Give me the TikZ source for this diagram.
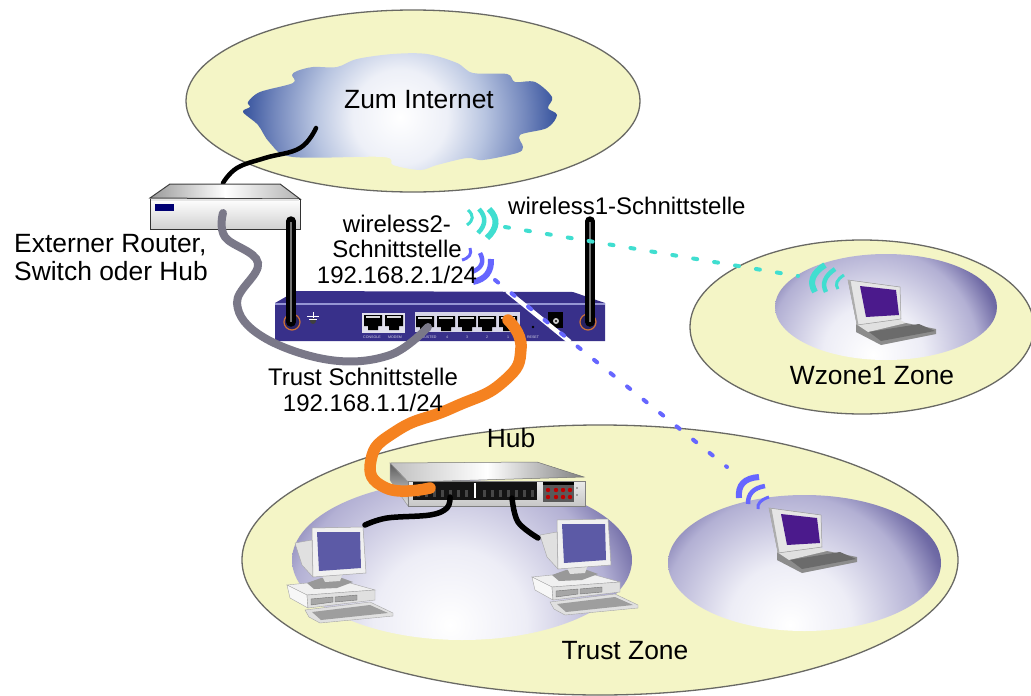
\documentclass[tikz,border=0pt]{standalone}
\usepackage{fontspec}
\usetikzlibrary{calc}
\setmainfont{Liberation Sans}
\pgfdeclareradialshading{zoneshade}{\pgfpointorigin}{rgb(0bp)=(1,1,1);rgb(9bp)=(.93,.93,.965);rgb(19bp)=(.70,.69,.83);rgb(23.5bp)=(.44,.42,.65);rgb(25bp)=(.40,.38,.62);rgb(50bp)=(.40,.38,.62)}
\pgfdeclareradialshading{cloudshade}{\pgfpointorigin}{rgb(0bp)=(1,1,1);rgb(7bp)=(.93,.94,.97);rgb(12.5bp)=(.72,.77,.88);rgb(18.5bp)=(.45,.53,.74);rgb(23bp)=(.22,.33,.62);rgb(25bp)=(.20,.30,.60);rgb(50bp)=(.20,.30,.60)}
\definecolor{zoneyellow}{RGB}{244,245,198}
\definecolor{zoneline}{RGB}{105,105,100}
\definecolor{routerblue}{RGB}{56,48,138}
\definecolor{routerlight}{RGB}{150,150,212}
\definecolor{cablegray}{RGB}{122,120,136}
\definecolor{cableorange}{RGB}{245,130,32}
\definecolor{wavecyan}{RGB}{64,222,208}
\definecolor{waveblue}{RGB}{102,102,255}
\definecolor{screenpurple}{RGB}{75,26,140}
\definecolor{screenblue}{RGB}{92,90,166}
\newcommand{\zonefill}[6]{%
  \begin{scope}
    \clip (#1,#2) ellipse [x radius=#3pt, y radius=#4pt];
    \pgfmathsetmacro{\zoneR}{1.25*#3}
    \shade[shading=zoneshade] (#5-\zoneR,#6-\zoneR) rectangle (#5+\zoneR,#6+\zoneR);
  \end{scope}}
% one wave arc: colour, width, start, apex control, end (a true quadratic)
\newcommand{\wavearc}[5]{%
  \draw[#1,line width=#2pt] (#3) .. controls ($(#3)!.667!(#4)$) and ($(#5)!.667!(#4)$) .. (#5);}
\tikzset{
  outerzone/.style={fill=zoneyellow,draw=zoneline,line width=1.3pt},
  lab/.style={font=\fontsize{24}{25.5}\selectfont,align=center,inner sep=0pt,text=black},
  biglab/.style={font=\fontsize{26.4}{28}\selectfont,align=center,inner sep=0pt,text=black},
  tinylab/.style={font=\fontsize{3.6}{4}\selectfont,inner sep=0pt,text=white!80!routerblue},
  blackcable/.style={draw=black,line width=5.5pt,line cap=round},
  graycable/.style={draw=cablegray,line width=8pt,line cap=round},
  orangecable/.style={draw=cableorange,line width=11.5pt,line cap=round},
  cyandash/.style={draw=wavecyan,line width=4pt,line cap=round,dash pattern=on 4pt off 17.2pt},
  bluedash/.style={draw=waveblue,line width=4pt,line cap=round,dash pattern=on 4pt off 17.2pt},
  antennabar/.style={draw=black,line width=9.5pt,line cap=round},
  antennaring/.style={draw=cableorange!80!routerblue,line width=1.2pt,fill=routerblue!70!black},
  rjport/.pic={
    \fill[black] (-9,0) -- (9,0) -- (9,11) -- (5,11) -- (5,15) -- (-5,15) -- (-5,11) -- (-9,11) -- cycle;
    \fill[white!85!black] (-7,1) rectangle (7,3);
  },
  laptoppic/.pic={
    % base
    \fill[black!45] (8,44) -- (58,43) -- (88,49) -- (88,54) -- (33,65) -- (8,52) -- cycle;
    \fill[black!12] (8,44) -- (50,39) -- (58,43) -- (20,52) -- cycle;
    \fill[black!58] (21,52) -- (71,44) -- (87,51) -- (33,61) -- cycle;
    % lid
    \fill[black!10,draw=black!40,line width=.5pt] (0,0) -- (52,7) -- (53,39) -- (9,45) -- cycle;
    \fill[black!32] (0,0) -- (2.5,0.5) -- (10.5,45) -- (9,45) -- cycle;
    \fill[screenpurple] (12,6) -- (48,10) -- (51,35) -- (18,37) -- cycle;
  },
  pcpic/.pic={
    % monitor side
    \fill[black!12,draw=black!35,line width=.4pt] (-17,15) -- (0,12) -- (1,49) -- (-10,37) -- cycle;
    % case
    \fill[black!6,draw=black!35,line width=.4pt] (-25,57) -- (-5,55) -- (38,55) -- (63,62) -- (-5,67) -- cycle;
    \fill[black!3,draw=black!35,line width=.4pt] (-25,57) -- (-5,67) -- (-4,80) -- (-22,70) -- cycle;
    \fill[black!12,draw=black!35,line width=.4pt] (-5,67) -- (63,62) -- (63,72) -- (-4,80) -- cycle;
    \fill[black!35,draw=black!55,line width=.4pt] (-1,71) -- (21,69) -- (21,74) -- (-1,77) -- cycle;
    \fill[black!35,draw=black!55,line width=.4pt] (23,69) -- (45,67) -- (45,72) -- (23,74) -- cycle;
    % stand
    \fill[black!40] (-5,55) -- (9,50) -- (30,50) -- (41,54) -- (25,60) -- (2,61) -- cycle;
    \fill[black!12] (10,48) -- (30,47) -- (28,53) -- (13,54) -- cycle;
    % keyboard
    \fill[black!12,draw=black!35,line width=.4pt] (-7,82) -- (58,74) -- (81,85) -- (81,88) -- (8,95) -- (-3,89) -- cycle;
    \fill[black!38] (0,84) -- (58,77) -- (76,85) -- (9,92) -- cycle;
    % monitor front
    \fill[black!6,draw=black!35,line width=.5pt] (0,0) -- (51,-1) -- (54,45) -- (1,49) -- cycle;
    \fill[screenblue] (5,4) -- (48,4) -- (49,40) -- (7,43) -- cycle;
  }
}
\begin{document}
\begin{tikzpicture}[x=1pt,y=-1pt]
\useasboundingbox (0,0) rectangle (1031,696);
\fill[white] (0,0) rectangle (1031,696);

% ---- zones
\draw[outerzone] (413,101) ellipse [x radius=227pt, y radius=91pt];
\draw[outerzone] (862,327) ellipse [x radius=172pt, y radius=87pt];
\draw[outerzone] (600,560) ellipse [x radius=358pt, y radius=135pt];
\zonefill{886}{307}{111}{53}{873}{355}
\zonefill{462}{560}{170}{80}{450}{625}
\zonefill{804.5}{563}{136.5}{68}{790}{625}

% ---- cloud
\begin{scope}
  \clip plot [smooth cycle,tension=.55] coordinates {(243,112) (250,107) (248,102) (260,92) (293,83) (292,75) (297,71) (313,67) (337,67) (357,59) (393,54) (427,54) (457,63) (473,73) (507,74) (515,82) (535,82) (552,97) (548,108) (557,115) (547,128) (520,135) (523,147) (517,153) (483,160) (467,158) (437,165) (420,170) (393,165) (383,157) (293,157) (270,143) (258,125)};
  \shade[shading=cloudshade] (230,-53) rectangle (570,287);
\end{scope}
\node[biglab] (internet) at (419,100) {Zum Internet};

% ---- external router
\coordinate (cloudport) at (316,128);
\coordinate (routertop) at (223,183);
\draw[blackcable,line width=4.5pt] plot [smooth,tension=.7] coordinates {(cloudport) (300,148) (265,158) (237,168) (routertop)};
\shade[left color=black!40,right color=black!30,middle color=white,draw=black!75,line width=1pt] (150,198) -- (170,184) -- (280,184) -- (300,199) -- cycle;
\shade[top color=white,bottom color=black!18,draw=black!80,line width=1pt] (150,199) rectangle (300,229);
\fill[black!10] (151,199) rectangle (299,201);
\fill[blue!45!black] (155,204) rectangle (174,211);
\node[lab,font=\fontsize{26.4}{28}\selectfont,align=left,anchor=west] (extlab) at (14,258) {Externer Router,\\Switch oder Hub};

% ---- main firewall
\fill[routerblue] (275,303) -- (296,291) -- (573,292) -- (605,303) -- (605,341) -- (275,341) -- cycle;
\fill[routerlight] (275,302.5) rectangle (605,304.5);
\fill[white!85!routerblue] (362,313) rectangle (405,333);
\path (373,315) pic {rjport} (394,315) pic {rjport};
\fill[white!80!routerblue] (415,312) rectangle (520,332);
\path (425,316) pic {rjport} (446,316) pic {rjport} (467,316) pic {rjport} (487,316) pic {rjport} (508,316) pic {rjport};
\node[tinylab] (consolelab) at (372,337) {CONSOLE};
\node[tinylab] (modemlab) at (395,337) {MODEM};
\node[tinylab] (trustedlab) at (428,337) {TRUSTED};
\node[tinylab] (p4) at (447,337) {4};
\node[tinylab] (p3) at (467,337) {3};
\node[tinylab] (p2) at (487,337) {2};
\node[tinylab] (p1) at (508,337) {1};
\node[tinylab] (resetlab) at (533,337) {RESET};
\fill[black!75] (313,321) circle (3pt);
\draw[white,line width=.8pt] (313,312) -- (313,318) (307,316) -- (319,316) (309,319) -- (317,319);
\fill[black] (533,327) circle (1.3pt);
\fill[black] (548,312) rectangle (563,328);
\fill[white!80!black] (556,321) circle (3pt);
\fill[black] (556,321) circle (1.2pt);

% antennas
\draw[antennaring] (292,322) circle (8pt);
\draw[antennaring] (588,322) circle (8pt);
\coordinate (anttopl) at (291,221);
\coordinate (antbotl) at (291,322);
\coordinate (anttopr) at (590,221);
\coordinate (antbotr) at (590,322);
\draw[antennabar] (anttopl) -- (antbotl);
\draw[antennabar] (anttopr) -- (antbotr);
\fill[black!55] (290.3,222) rectangle (291.7,322);
\fill[black!55] (589.3,222) rectangle (590.7,322);

% gray cable
\coordinate (routerfront) at (223,213);
\coordinate (trustport) at (428,327);
\draw[graycable] plot [smooth,tension=.65] coordinates {(routerfront) (225,237) (258,263) (237,303) (263,337) (330,360) (390,355) (trustport)};

% ---- hub
\coordinate (hubL) at (450,497);
\coordinate (hubR) at (512,498);
\coordinate (pc1port) at (365,525);
\coordinate (pc2port) at (538,538);
\shade[left color=black!25,right color=black!50,middle color=white,draw=black!55,line width=.5pt] (390,463) -- (537,462) -- (584,477) -- (408,482) -- cycle;
\shade[top color=black!65,bottom color=black!10,draw=black!40,line width=.5pt] (390,463) -- (408,482) -- (408,506) -- (390,480) -- cycle;
\shade[top color=black!8,bottom color=black!22,draw=black!50,line width=.5pt] (408,481) rectangle (585,506);
\fill[black!92] (413,482) rectangle (537,500);
\fill[white] (474,483) rectangle (476,498);
\foreach \px in {418,426,...,466,484,492,...,532} {\fill[black!72] (\px-1.5,490) rectangle (\px+1.5,497);}
\fill[black!65] (543,482) rectangle (574,502);
\fill[black] (543,482) rectangle (574,485);
\foreach \px in {548,556,563,570} {\foreach \py in {490,497} {\fill[red!75!black] (\px,\py) circle (2.2pt);}}
\fill[black!60] (577,488) circle (.8pt) (577,495) circle (.8pt);
\node[biglab] (hublab) at (511,438) {Hub};

% ---- computers
\path (312,528) pic (pc1) {pcpic};
\path (557,520) pic (pc2) {pcpic};
\draw[blackcable] plot [smooth,tension=.6] coordinates {(hubL) (447,508) (430,515) (387,518) (pc1port)};
\draw[blackcable] plot [smooth,tension=.6] coordinates {(hubR) (518,522) (pc2port)};

% ---- orange cable
\coordinate (port1) at (508,320);
\coordinate (hubport) at (430,488);
\draw[orangecable] plot [smooth,tension=.9] coordinates {(port1) (521,348) (503,382) (452,408) (398,430) (371,460) (386,488) (hubport)};

% ---- laptops
\path (769,508) pic (lap2) {laptoppic};
\path (848,280) pic (lap1) {laptoppic};

% ---- wireless links
\coordinate (w2start) at (495,280);
\coordinate (w2end) at (727,467);
\coordinate (w1start) at (505,227);
\coordinate (w1end) at (798,276);
\coordinate (bandA) at (507,291);
\coordinate (bandB) at (570,342);
\draw[white,line width=4.5pt] (bandA) -- (bandB);
\draw[bluedash] (w2start) -- (w2end);
\draw[cyandash] (w1start) -- (w1end);
% waves
\wavearc{wavecyan}{3}{468,210}{477,218}{467,225}
\wavearc{wavecyan}{4.5}{479,209}{490,221}{478,233}
\wavearc{wavecyan}{6}{489,209}{503,223}{487,238}
\wavearc{waveblue}{3}{470,248}{473,257}{462,260}
\wavearc{waveblue}{4.5}{480,253}{487,266}{472,272}
\wavearc{waveblue}{6}{491,259}{492,278}{473,282}
\wavearc{wavecyan}{6}{825,265}{806,277}{815,292}
\wavearc{wavecyan}{4.5}{835,269}{819.5,279.5}{826,292}
\wavearc{wavecyan}{3}{844,275}{833,282}{838,289}
\wavearc{waveblue}{6}{759,477}{737,478.5}{739,498}
\wavearc{waveblue}{4.5}{765,486}{747.5,489}{748,504}
\wavearc{waveblue}{3}{769,497}{756.5,501}{758,509}

% ---- labels
\node[lab,anchor=west] (w1lab) at (508,206) {wireless1-Schnittstelle};
\node[lab] (w2lab) at (397,249) {wireless2-\\Schnittstelle\\192.168.2.1/24};
\node[lab] (trustlab) at (363,390) {Trust Schnittstelle\\192.168.1.1/24};
\node[biglab] (wzonelab) at (872,376) {Wzone1 Zone};
\node[biglab] (trustzonelab) at (625,651) {Trust Zone};
\end{tikzpicture}
\end{document}
